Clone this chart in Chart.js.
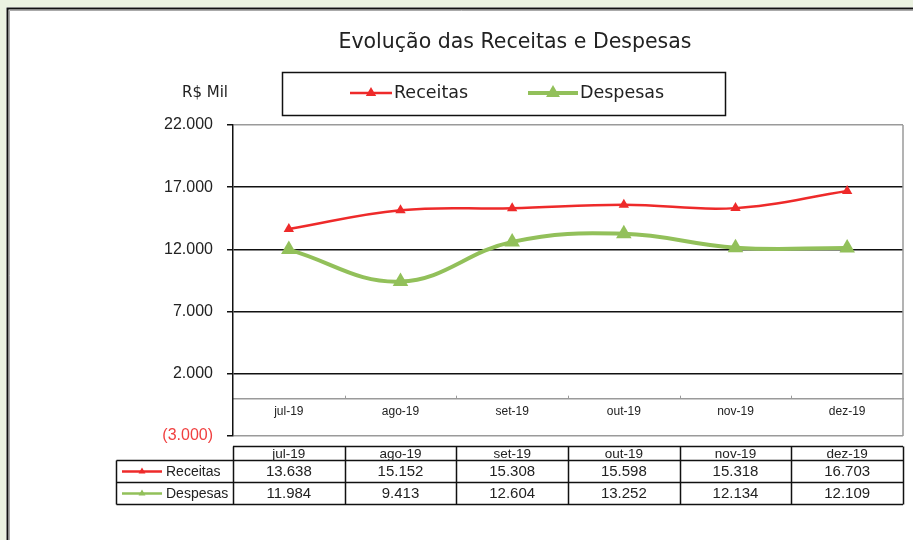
<!DOCTYPE html>
<html><head><meta charset="utf-8">
<script src="https://cdn.jsdelivr.net/npm/chart.js@4/dist/chart.umd.min.js"></script>
<style>html,body{margin:0;padding:0;background:#ebf2e1;overflow:hidden}canvas{display:block}</style>
</head><body>
<canvas id="c" width="913" height="540"></canvas>
<script>
const categories = ['jul-19','ago-19','set-19','out-19','nov-19','dez-19'];
const receitas = [13638, 15152, 15308, 15598, 15318, 16703];
const despesas = [11984, 9413, 12604, 13252, 12134, 12109];
const yTicks = [-3000, 2000, 7000, 12000, 17000, 22000];
const seriesNames = ['Receitas', 'Despesas'];
const titleText = 'Evolução das Receitas e Despesas';
const unitText = 'R$ Mil';

const RED = '#ee2a2a';
const GREEN = '#92c05a';

function fmt(v){
  const s = Math.abs(Math.round(v)).toString().replace(/\B(?=(\d{3})+(?!\d))/g,'.');
  return v < 0 ? '(' + s + ')' : s;
}
function tri(ctx, x, y, r, color){
  ctx.save();
  ctx.fillStyle = color;
  ctx.beginPath();
  for (let k=0;k<3;k++){
    const a = k*2*Math.PI/3;
    const px = x + Math.sin(a)*r, py = y - Math.cos(a)*r;
    if (k===0) ctx.moveTo(px,py); else ctx.lineTo(px,py);
  }
  ctx.closePath(); ctx.fill(); ctx.restore();
}
function lineSample(ctx, x0, x1, y, color, lw, r){
  ctx.save();
  ctx.strokeStyle = color; ctx.lineWidth = lw;
  ctx.beginPath(); ctx.moveTo(x0,y); ctx.lineTo(x1,y); ctx.stroke();
  ctx.restore();
  tri(ctx, (x0+x1)/2, y, r, color);
}

const decor = {
  id: 'decor',
  beforeDraw(chart){
    const ctx = chart.ctx;
    ctx.save();
    ctx.fillStyle = '#ebf2e1';
    ctx.fillRect(0,0,chart.width,chart.height);
    ctx.fillStyle = '#ffffff';
    ctx.fillRect(6,7,chart.width-6,chart.height-7);
    ctx.strokeStyle = '#111'; ctx.lineWidth = 2;
    ctx.beginPath(); ctx.moveTo(7.5,chart.height); ctx.lineTo(7.5,8.5); ctx.lineTo(chart.width,8.5); ctx.stroke();
    ctx.strokeStyle = '#aaa'; ctx.lineWidth = 1;
    ctx.beginPath(); ctx.moveTo(9.5,chart.height); ctx.lineTo(9.5,10.5); ctx.lineTo(chart.width,10.5); ctx.stroke();
    ctx.restore();
  },
  afterDraw(chart){
    const ctx = chart.ctx;
    const ca = chart.chartArea;
    const L = ca.left, R = ca.right;
    const cw = (R - L) / categories.length;
    ctx.save();
    ctx.strokeStyle = '#9a9a9a'; ctx.lineWidth = 1.5;
    ctx.beginPath(); ctx.moveTo(R, ca.top); ctx.lineTo(R, ca.bottom); ctx.stroke();
    const y0 = chart.scales.y.getPixelForValue(0);
    ctx.lineWidth = 1;
    for (let i=1;i<categories.length;i++){
      const x = Math.round(L + i*cw) + 0.5;
      ctx.beginPath(); ctx.moveTo(x, y0-3); ctx.lineTo(x, y0); ctx.stroke();
    }
    ctx.fillStyle = '#222';
    ctx.textAlign = 'center'; ctx.textBaseline = 'middle';
    ctx.font = '20.5px "DejaVu Sans"';
    ctx.fillText(titleText, 515, 43);
    ctx.textAlign = 'right';
    ctx.font = '15px "DejaVu Sans"';
    ctx.fillText(unitText, 228, 93);
    ctx.strokeStyle = '#111'; ctx.lineWidth = 1.5;
    ctx.strokeRect(282.5, 72.5, 443, 43);
    lineSample(ctx, 350, 392, 93, RED, 2.5, 6);
    lineSample(ctx, 528, 578, 93, GREEN, 4, 8);
    ctx.fillStyle = '#222'; ctx.textAlign = 'left';
    ctx.font = '17.5px "DejaVu Sans"';
    ctx.fillText(seriesNames[0], 394, 93);
    ctx.fillText(seriesNames[1], 580, 93);
    const yH0 = 446.5, yH1 = 460.5, yR1 = 482.5, yR2 = 504.5, labL = 116.5;
    ctx.strokeStyle = '#111'; ctx.lineWidth = 1.5;
    ctx.beginPath();
    ctx.moveTo(L, yH0); ctx.lineTo(R, yH0);
    ctx.moveTo(labL, yH1); ctx.lineTo(R, yH1);
    ctx.moveTo(labL, yR1); ctx.lineTo(R, yR1);
    ctx.moveTo(labL, yR2); ctx.lineTo(R, yR2);
    ctx.moveTo(labL, yH1); ctx.lineTo(labL, yR2);
    for (let i=0;i<=categories.length;i++){
      const x = Math.round(L + i*cw) + 0.5;
      ctx.moveTo(x, yH0); ctx.lineTo(x, yR2);
    }
    ctx.stroke();
    ctx.fillStyle = '#222'; ctx.textAlign = 'center';
    ctx.font = '13.5px "Liberation Sans"';
    categories.forEach((c,i)=>{ ctx.fillText(c, L + (i+0.5)*cw, (yH0+yH1)/2 + 0.5); });
    ctx.font = '15px "Liberation Sans"';
    receitas.forEach((v,i)=>{ ctx.fillText(fmt(v), L + (i+0.5)*cw, (yH1+yR1)/2 + 0.5); });
    despesas.forEach((v,i)=>{ ctx.fillText(fmt(v), L + (i+0.5)*cw, (yR1+yR2)/2 + 0.5); });
    lineSample(ctx, 122, 162, (yH1+yR1)/2, RED, 2.5, 4);
    lineSample(ctx, 122, 162, (yR1+yR2)/2, GREEN, 2.5, 4);
    ctx.fillStyle = '#222'; ctx.textAlign = 'left';
    ctx.font = '14px "Liberation Sans"';
    ctx.fillText(seriesNames[0], 166, (yH1+yR1)/2 + 0.5);
    ctx.fillText(seriesNames[1], 166, (yR1+yR2)/2 + 0.5);
    ctx.restore();
  }
};

new Chart(document.getElementById('c'), {
  type: 'line',
  data: {
    labels: categories,
    datasets: [
      { label: seriesNames[0], data: receitas, borderColor: RED, backgroundColor: RED,
        borderWidth: 2.5, pointStyle: 'triangle', pointRadius: 6, pointHoverRadius: 6,
        pointBorderWidth: 0, tension: 0.4, fill: false },
      { label: seriesNames[1], data: despesas, borderColor: GREEN, backgroundColor: GREEN,
        borderWidth: 4, pointStyle: 'triangle', pointRadius: 9, pointHoverRadius: 9,
        pointBorderWidth: 0, tension: 0.4, fill: false }
    ]
  },
  options: {
    responsive: false, animation: false, devicePixelRatio: 1,
    layout: { padding: { left: 0, right: 10, top: 125, bottom: 104 } },
    plugins: { legend: { display: false }, title: { display: false }, tooltip: { enabled: false } },
    scales: {
      x: {
        type: 'category', position: { y: 0 }, offset: true,
        grid: { display: false, drawOnChartArea: false, drawTicks: false },
        border: { display: true, color: '#9a9a9a', width: 1.5 },
        ticks: { font: { family: 'Liberation Sans', size: 12 }, color: '#222', padding: 6, maxRotation: 0 }
      },
      y: {
        min: -3000, max: 22000,
        afterBuildTicks: s => { s.ticks = yTicks.map(v => ({ value: v })); },
        afterFit: s => { s.width = 233; },
        grid: {
          color: c => (c.tick && (c.tick.value === 22000 || c.tick.value === -3000)) ? '#9a9a9a' : '#111',
          lineWidth: 1.5, tickColor: '#111', tickLength: 6
        },
        border: { color: '#111', width: 1.5 },
        ticks: {
          callback: v => fmt(v),
          color: c => (c.tick && c.tick.value < 0) ? '#f04040' : '#222',
          font: { family: 'Liberation Sans', size: 16 }, padding: 14
        }
      }
    }
  },
  plugins: [decor]
});
</script>
</body></html>
